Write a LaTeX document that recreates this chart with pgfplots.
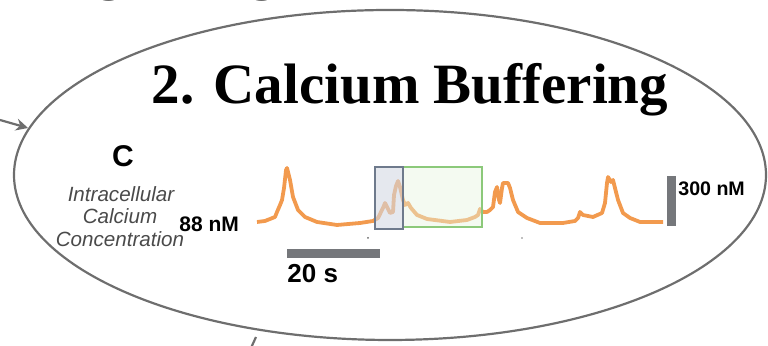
\documentclass[border=0pt]{standalone}
\usepackage{pgfplots}
\pgfplotsset{compat=1.18}
\usetikzlibrary{arrows.meta}
\usepackage{fontspec}
\setmainfont{Liberation Sans}
\newfontfamily\titlefont{Liberation Serif}
\definecolor{trace}{HTML}{F29A4E}
\definecolor{ellc}{HTML}{6E6E6E}
\definecolor{barc}{HTML}{75777B}
\definecolor{gboxf}{HTML}{D3D8E2}
\definecolor{gboxd}{HTML}{6E7A8C}
\definecolor{grnd}{HTML}{8CC97A}
\definecolor{grnf}{HTML}{E6F3DF}
\definecolor{labc}{HTML}{4A4A4A}
\begin{document}
\begin{tikzpicture}[x=0.5pt,y=0.5pt]
\path[use as bounding box] (0,0) rectangle (768,346);
\clip (0,0) rectangle (768,346);
% cut-off text above
\node[anchor=base,inner sep=0pt] at (110,357) {\titlefont\bfseries\fontsize{28.5}{30}\selectfont g};
\node[anchor=base,inner sep=0pt] at (263,357) {\titlefont\bfseries\fontsize{28.5}{30}\selectfont g};
% ellipse and arrows
\draw[ellc,line width=1.1pt] (390,171) ellipse [x radius=188pt, y radius=82.5pt];
\draw[ellc,line width=1.1pt,-{Stealth[length=6pt,width=6pt]}] (0,226) -- (28,218);
\draw[ellc,line width=1.1pt] (251,-2) -- (256,9);
% title
\node[anchor=base,inner sep=0pt] at (410,242) {\titlefont\bfseries\fontsize{28.5}{30}\selectfont 2. Calcium Buffering};
% labels
\node[anchor=base,inner sep=0pt] at (123,179) {\bfseries\fontsize{15}{16}\selectfont C};
\node[anchor=base,inner sep=0pt,text=labc] at (121,144) {\itshape\fontsize{10.3}{11}\selectfont Intracellular};
\node[anchor=base,inner sep=0pt,text=labc] at (120,122) {\itshape\fontsize{10.3}{11}\selectfont Calcium};
\node[anchor=base,inner sep=0pt,text=labc] at (120,99) {\itshape\fontsize{10.3}{11}\selectfont Concentration};
\node[anchor=base west,inner sep=0pt] at (179,114) {\bfseries\fontsize{10.5}{12}\selectfont 88 nM};
\node[anchor=base west,inner sep=0pt] at (678,150) {\bfseries\fontsize{9.8}{11}\selectfont 300 nM};
\node[anchor=base west,inner sep=0pt] at (287,63) {\bfseries\fontsize{13}{14}\selectfont 20 s};
\begin{axis}[
  at={(125pt,55.5pt)}, anchor=south west,
  scale only axis, width=210pt, height=37.5pt,
  xmin=-1.505, xmax=88.795, ymin=10, ymax=460,
  axis lines=none, ticks=none, clip=false]
\addplot[color=trace, line width=1.9pt, line join=round, mark=none] table {
t c
0 88
1.72 94
2.80 106
3.87 118
4.30 148
4.95 190
5.38 220
5.81 292
6.24 400
6.45 412
6.67 388
7.10 340
7.74 238
8.82 160
10.32 118
12.90 88
17.20 70
22.15 82
24.94 94
26.02 112
26.66 148
27.09 172
27.52 202
27.95 178
28.60 142
29.24 148
29.46 250
29.89 304
30.32 334
30.75 298
31.39 220
31.82 190
32.47 202
33.11 172
34.40 130
36.55 106
41.50 88
45.15 100
46.87 118
47.52 130
47.95 166
48.59 148
49.45 148
50.10 160
50.74 178
51.17 268
51.60 298
52.03 220
52.25 202
52.68 292
52.89 322
53.32 322
53.97 322
54.40 292
55.04 220
56.12 148
58.05 112
60.85 82
65.79 82
68.37 94
69.02 112
69.45 148
70.09 130
72.24 118
74.18 142
74.82 202
75.25 322
75.47 358
76.11 328
76.54 340
76.97 292
77.62 220
78.69 142
80.20 112
82.35 88
87.3 88
};
% highlight boxes
\fill[grnf, fill opacity=0.45] (axis cs:31.39,58) rectangle (axis cs:48.38,418);
\draw[grnd, line width=0.6pt] (axis cs:31.39,58) rectangle (axis cs:48.38,418);
\fill[gboxf, fill opacity=0.6] (axis cs:25.37,46) rectangle (axis cs:31.39,418);
\draw[gboxd, line width=0.7pt] (axis cs:25.37,46) rectangle (axis cs:31.39,418);
% scale bars
\fill[barc] (axis cs:6.45,-74) rectangle (axis cs:26.45,-128);
\fill[barc] (axis cs:88.15,64) rectangle (axis cs:90.1,364);
\end{axis}
\fill[black!60] (368,108) circle (1);
\fill[black!50] (522,108) circle (0.8);
\end{tikzpicture}
\end{document}
